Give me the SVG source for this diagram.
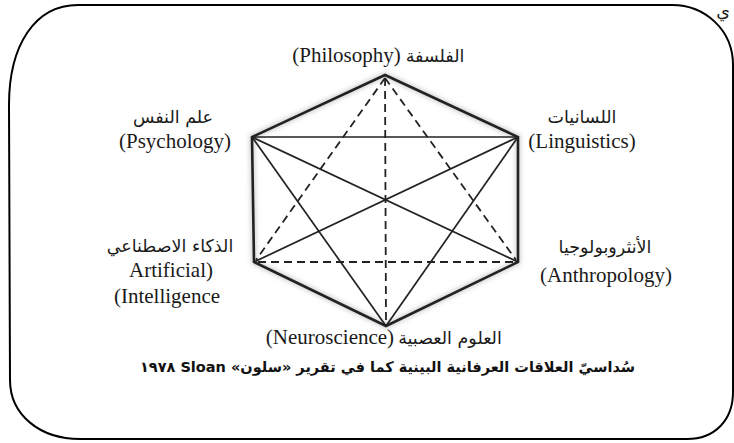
<svg xmlns="http://www.w3.org/2000/svg" width="734" height="443" viewBox="0 0 734 443">
<style>
.lbl{font-family:"Liberation Serif","DejaVu Serif","DejaVu Sans",serif;font-size:21px;fill:#1a1a1a;text-anchor:middle}
.ar{font-family:"DejaVu Sans","Liberation Serif",sans-serif;font-size:17.5px;fill:#1a1a1a;text-anchor:middle}
.cap{font-family:"DejaVu Sans","Liberation Sans",sans-serif;font-size:14.5px;font-weight:bold;fill:#111;text-anchor:middle}
.edge{stroke:#222;stroke-width:2.6;fill:none;stroke-linecap:round}
.inner{stroke:#222;stroke-width:1.7;fill:none}
.dash{stroke:#222;stroke-width:1.8;fill:none;stroke-dasharray:8 5}
.halo{stroke:#888;stroke-width:6;fill:none;opacity:0.35}
</style>
<defs>
<filter id="blur" x="-10%" y="-10%" width="120%" height="120%"><feGaussianBlur stdDeviation="2"/></filter>
</defs>
<rect width="734" height="443" fill="#fff"/>
<path d="M 78,5 L 672,5 C 705,5 733,30 733,65 L 733,392 C 733,420 715,439 687,439 L 80,439 C 40,439 10,415 10,380 L 9,105 C 9,45 35,5 78,5 Z" fill="none" stroke="#000" stroke-width="2"/>
<text x="723" y="17" class="ar" font-size="12">ي</text>
<g id="connectors">
<g filter="url(#blur)">
<polygon class="halo" points="385,75 252,137 254,262 386,326 518,262 518,137"/>
</g>
<polygon class="edge" points="385,75 252,137 254,262 386,326 518,262 518,137"/>
<line class="inner" x1="252" y1="137" x2="518" y2="137"/>
<line class="inner" x1="252" y1="137" x2="518" y2="262"/>
<line class="inner" x1="518" y1="137" x2="254" y2="262"/>
<line class="inner" x1="252" y1="137" x2="386" y2="326"/>
<line class="inner" x1="518" y1="137" x2="386" y2="326"/>
<line class="dash" x1="385" y1="78" x2="386" y2="323"/>
<line class="dash" x1="385" y1="78" x2="256" y2="260"/>
<line class="dash" x1="385" y1="78" x2="516" y2="260"/>
<line class="dash" x1="258" y1="262" x2="514" y2="262"/>
</g>
<g id="philosophy">
<text x="346.5" y="62" class="lbl" font-size="19">(Philosophy)</text>
<text x="435" y="62" class="ar">الفلسفة</text>
</g>
<g id="psychology">
<text x="173" y="123" class="ar" direction="rtl">علم النفس</text>
<text x="175" y="148" class="lbl">(Psychology)</text>
</g>
<g id="linguistics">
<text x="582" y="123" class="ar" direction="rtl">اللسانيات</text>
<text x="582" y="148" class="lbl">(Linguistics)</text>
</g>
<g id="ai">
<text x="170" y="252" class="ar" direction="rtl">الذكاء الاصطناعي</text>
<text x="171" y="277" class="lbl">Artificial)</text>
<text x="167" y="303" class="lbl">(Intelligence</text>
</g>
<g id="anthropology">
<text x="605" y="253" class="ar" direction="rtl">الأنثروبولوجيا</text>
<text x="606" y="282" class="lbl">(Anthropology)</text>
</g>
<g id="neuroscience">
<text x="330" y="344" class="lbl">(Neuroscience)</text>
<text x="450" y="344" class="ar" direction="rtl">العلوم العصبية</text>
</g>
<text x="387.5" y="372" class="cap" direction="rtl">سُداسيّ العلاقات العرفانية البينية كما في تقرير «سلون» Sloan ١٩٧٨</text>
</svg>
